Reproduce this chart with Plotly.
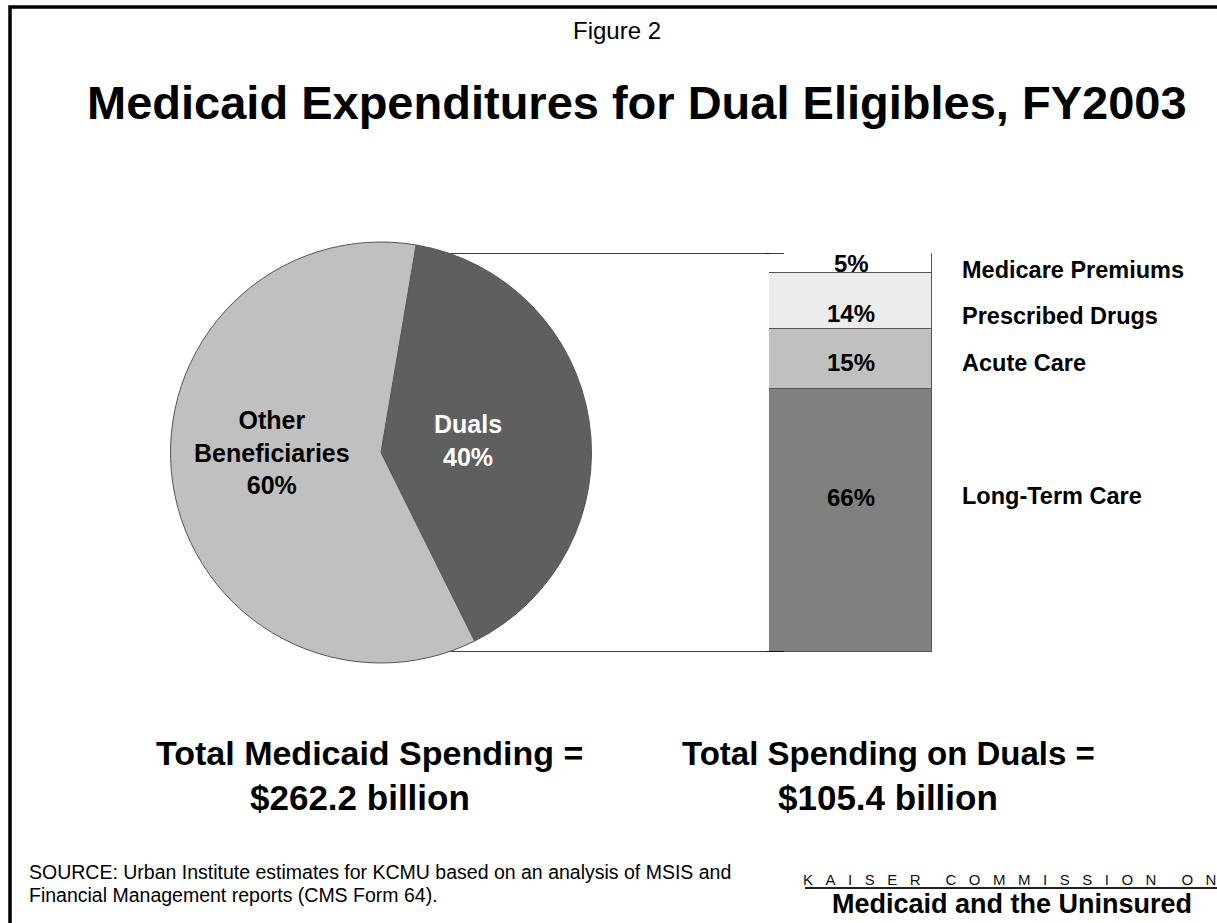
import plotly.graph_objects as go

W, H = 1217, 923

# ---- data ----
pie_labels = ["Duals", "Other Beneficiaries"]
pie_text_labels = ["Duals", "Other<br>Beneficiaries"]
pie_values = [40, 60]
pie_colors = ["#5f5f5f", "#c0c0c0"]
pie_text_colors = ["white", "black"]

bar_categories = ["Long-Term Care", "Acute Care", "Prescribed Drugs", "Medicare Premiums"]
bar_values = [66, 15, 14, 5]
bar_colors = ["#808080", "#c0c0c0", "#ececec", "#ffffff"]

total_left = ["Total Medicaid Spending =", "$262.2 billion"]
total_right = ["Total Spending on Duals =", "$105.4 billion"]

FONT = "Arial, Liberation Sans, sans-serif"


def px(x):
    return x / W


def py(y):
    return 1 - y / H


fig = go.Figure()

fig.add_trace(go.Pie(
    labels=pie_labels,
    values=pie_values,
    textinfo="none",
    marker=dict(colors=pie_colors, line=dict(color="#555555", width=1)),
    sort=False,
    direction="clockwise",
    rotation=9.6,
    showlegend=False,
    domain=dict(x=[px(170), px(592)], y=[py(663), py(242)]),
    hoverinfo="label+percent",
))

for cat, val, col in zip(bar_categories, bar_values, bar_colors):
    fig.add_trace(go.Bar(
        x=[0], y=[val], name=cat,
        marker=dict(color=col, line=dict(color="#555555", width=1)),
        width=1,
        showlegend=False,
        hoverinfo="name+y",
    ))

top = sum(bar_values)
shapes = [
    # connecting lines from pie to bar (drawn under the pie and bar)
    dict(type="line", xref="paper", yref="y", x0=px(381), x1=px(784),
         y0=top, y1=top, line=dict(color="black", width=1.5), layer="below"),
    dict(type="line", xref="paper", yref="y", x0=px(381), x1=px(784),
         y0=0, y1=0, line=dict(color="black", width=1.5), layer="below"),
    dict(type="line", xref="paper", yref="y", x0=px(766), x1=px(784),
         y0=top, y1=top, line=dict(color="black", width=1.5), layer="above"),
    dict(type="line", xref="paper", yref="y", x0=px(766), x1=px(784),
         y0=0, y1=0, line=dict(color="black", width=1.5), layer="above"),
    # frame
    dict(type="rect", xref="paper", yref="paper", x0=px(10), x1=px(1240), y0=py(7), y1=py(960),
         line=dict(color="black", width=3.5), fillcolor="rgba(0,0,0,0)", layer="above"),
    # underline of KAISER COMMISSION ON
    dict(type="line", xref="paper", yref="paper", x0=px(805), x1=px(1217), y0=py(888), y1=py(888),
         line=dict(color="#222222", width=2)),
]

annotations = []


def ann(text, x, y, size, bold=False, xanchor="center", align="center", color="black"):
    t = f"<b>{text}</b>" if bold else text
    annotations.append(dict(text=t, x=px(x), y=py(y), xref="paper", yref="paper",
                            xanchor=xanchor, yanchor="middle", align=align, showarrow=False,
                            font=dict(family=FONT, size=size, color=color)))


ann("Figure 2", 617, 31, 24)
ann("Medicaid Expenditures for Dual Eligibles, FY2003", 637, 103, 47, bold=True)

# pie slice labels
pie_label_pos = {"Duals": (468, 440), "Other Beneficiaries": (272, 452)}
total_pie = sum(pie_values)
for lab, txt, val, col in zip(pie_labels, pie_text_labels, pie_values, pie_text_colors):
    x, y = pie_label_pos[lab]
    ann(f"{txt}<br>{round(100 * val / total_pie)}%", x, y, 25, bold=True, color=col)

# bar value labels and right-side category labels
value_y = {"Medicare Premiums": 263, "Prescribed Drugs": 313, "Acute Care": 362, "Long-Term Care": 497}
label_y = {"Medicare Premiums": 270, "Prescribed Drugs": 316, "Acute Care": 363, "Long-Term Care": 496}
for cat, val in zip(bar_categories, bar_values):
    ann(f"{val}%", 851, value_y[cat], 24, bold=True)
    ann(cat, 960, label_y[cat], 23.5, bold=True, xanchor="left")

ann(total_left[0], 369, 753, 34, bold=True)
ann(total_left[1], 360, 797, 35, bold=True)
ann(total_right[0], 888, 753, 33, bold=True)
ann(total_right[1], 888, 797, 35, bold=True)

ann("SOURCE: Urban Institute estimates for KCMU based on an analysis of MSIS and", 27, 872, 19.5,
    xanchor="left", align="left")
ann("Financial Management reports (CMS Form 64).", 27, 895, 19.5, xanchor="left", align="left")

nb = "\u00a0"
kaiser = (nb * 3).join("KAISER") + nb * 6 + (nb * 3).join("COMMISSION") + nb * 6 + (nb * 3).join("ON")
ann(kaiser, 1009, 879, 15, color="#111111")
ann("Medicaid and the Uninsured", 1012, 904, 27, bold=True)

fig.update_layout(
    width=W, height=H,
    margin=dict(l=0, r=0, t=0, b=0),
    paper_bgcolor="white",
    plot_bgcolor="white",
    barmode="stack",
    bargap=0,
    xaxis=dict(domain=[px(769), px(932)], range=[-0.5, 0.5], visible=False, fixedrange=True),
    yaxis=dict(domain=[py(652), py(253)], range=[0, top], visible=False, fixedrange=True),
    shapes=shapes,
    annotations=annotations,
    font=dict(family=FONT),
)

fig.write_html("out.html", config={"displayModeBar": False},
               post_script="document.body.style.margin='0px';")
